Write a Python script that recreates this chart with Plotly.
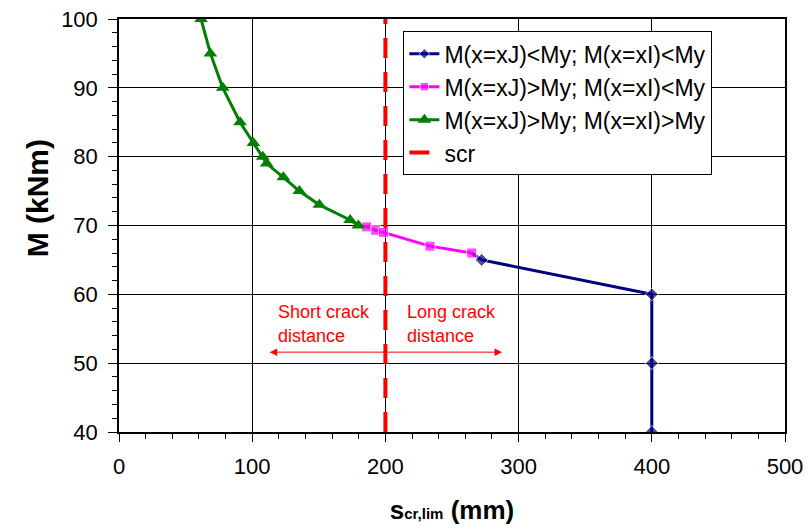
import plotly.graph_objects as go

# ---- data ----
blue_x = [264.8, 272.3, 400, 400, 400]
blue_y = [66.0, 65.0, 60, 50, 40]

magenta_x = [179.7, 185.9, 192.7, 198.5, 233.5, 264.8]
magenta_y = [70.0, 69.8, 69.3, 69.0, 67.0, 66.0]

green_x = [61.6, 68.6, 77.9, 90.9, 100.9, 107.9, 110.9, 123.4, 135.4, 150.4, 173.5, 179.7]
green_y = [100, 95, 90, 85, 82, 80, 79, 77, 75, 73, 70.8, 70]

scr_x = [200, 200]
scr_y = [40, 100]

names = ["M(x=xJ)<My; M(x=xI)<My", "M(x=xJ)>My; M(x=xI)<My",
         "M(x=xJ)>My; M(x=xI)>My", "scr"]

FONT = "Liberation Sans, Arial, sans-serif"

fig = go.Figure()
fig.add_trace(go.Scatter(
    x=blue_x, y=blue_y, name=names[0], mode="lines+markers",
    line=dict(color="#000080", width=3),
    marker=dict(symbol="diamond", size=[0] + [10] * (len(blue_x) - 1), color="#000080")))
fig.add_trace(go.Scatter(
    x=magenta_x, y=magenta_y, name=names[1], mode="lines+markers",
    line=dict(color="#FF00FF", width=3),
    marker=dict(symbol="square", size=[0] + [10] * (len(magenta_x) - 1), color="#FF00FF")))
fig.add_trace(go.Scatter(
    x=green_x, y=green_y, name=names[2], mode="lines+markers",
    line=dict(color="#008000", width=3),
    marker=dict(symbol="triangle-up", size=12, color="#008000")))
fig.add_trace(go.Scatter(
    x=scr_x, y=scr_y, name=names[3], mode="lines",
    line=dict(color="#FF0000", width=4, dash="20px,14px")))

# annotations
ann_font = dict(family=FONT, size=18, color="#FF0000")
fig.add_annotation(x=118, y=57.4, text="Short crack", showarrow=False,
                   xanchor="left", yanchor="middle", font=ann_font)
fig.add_annotation(x=118, y=54.0, text="distance", showarrow=False,
                   xanchor="left", yanchor="middle", font=ann_font)
fig.add_annotation(x=214.5, y=57.4, text="Long crack", showarrow=False,
                   xanchor="left", yanchor="middle", font=ann_font)
fig.add_annotation(x=214.5, y=54.0, text="distance", showarrow=False,
                   xanchor="left", yanchor="middle", font=ann_font)
fig.add_annotation(x=287.6, y=51.6, ax=112, ay=51.6, axref="x", ayref="y",
                   xref="x", yref="y", text="", showarrow=True,
                   arrowside="end+start", arrowhead=2, arrowsize=1.5,
                   arrowwidth=1, arrowcolor="#FF0000")

# y-axis title as annotation (positioned like the reference)
fig.add_annotation(xref="paper", yref="paper", x=-0.123, y=0.566,
                   text="<b>M (kNm)</b>", showarrow=False, textangle=-90,
                   xanchor="center", yanchor="middle",
                   font=dict(family=FONT, size=30, color="black"))

fig.update_layout(
    width=808, height=532,
    margin=dict(l=119, r=23, t=19, b=100, autoexpand=False),
    paper_bgcolor="white", plot_bgcolor="white",
    font=dict(family=FONT, color="black"),
    showlegend=True,
    legend=dict(x=0.427, y=0.97, xanchor="left", yanchor="top",
                bgcolor="white", bordercolor="black", borderwidth=1,
                font=dict(family=FONT, size=23, color="black"),
                tracegroupgap=0, itemwidth=30),
    xaxis=dict(
        range=[0, 500], dtick=100, tick0=0, automargin=False,
        showgrid=True, gridcolor="black", gridwidth=1,
        showline=True, linecolor="black", linewidth=1.5, mirror=True,
        ticks="outside", ticklen=8, tickcolor="black", ticklabelstandoff=6,
        tickfont=dict(family=FONT, size=22, color="black"),
        minor=dict(dtick=20, ticks="outside", ticklen=5, tickcolor="black", showgrid=False),
        zeroline=False,
        title=dict(text="<b>s<span style='font-size:15px'>cr,lim</span> (mm)</b>",
                   font=dict(family=FONT, size=26, color="black"), standoff=23),
    ),
    yaxis=dict(
        range=[40, 100], dtick=10, tick0=40, automargin=False,
        showgrid=True, gridcolor="black", gridwidth=1,
        showline=True, linecolor="black", linewidth=1.5, mirror=True,
        ticks="outside", ticklen=9, tickcolor="black", ticklabelstandoff=6,
        tickfont=dict(family=FONT, size=22, color="black"),
        minor=dict(dtick=2, ticks="outside", ticklen=5, tickcolor="black", showgrid=False),
        zeroline=False,
    ),
)

fig.write_html("out.html", config={"displayModeBar": False},
               post_script="document.body.style.margin='0';")
